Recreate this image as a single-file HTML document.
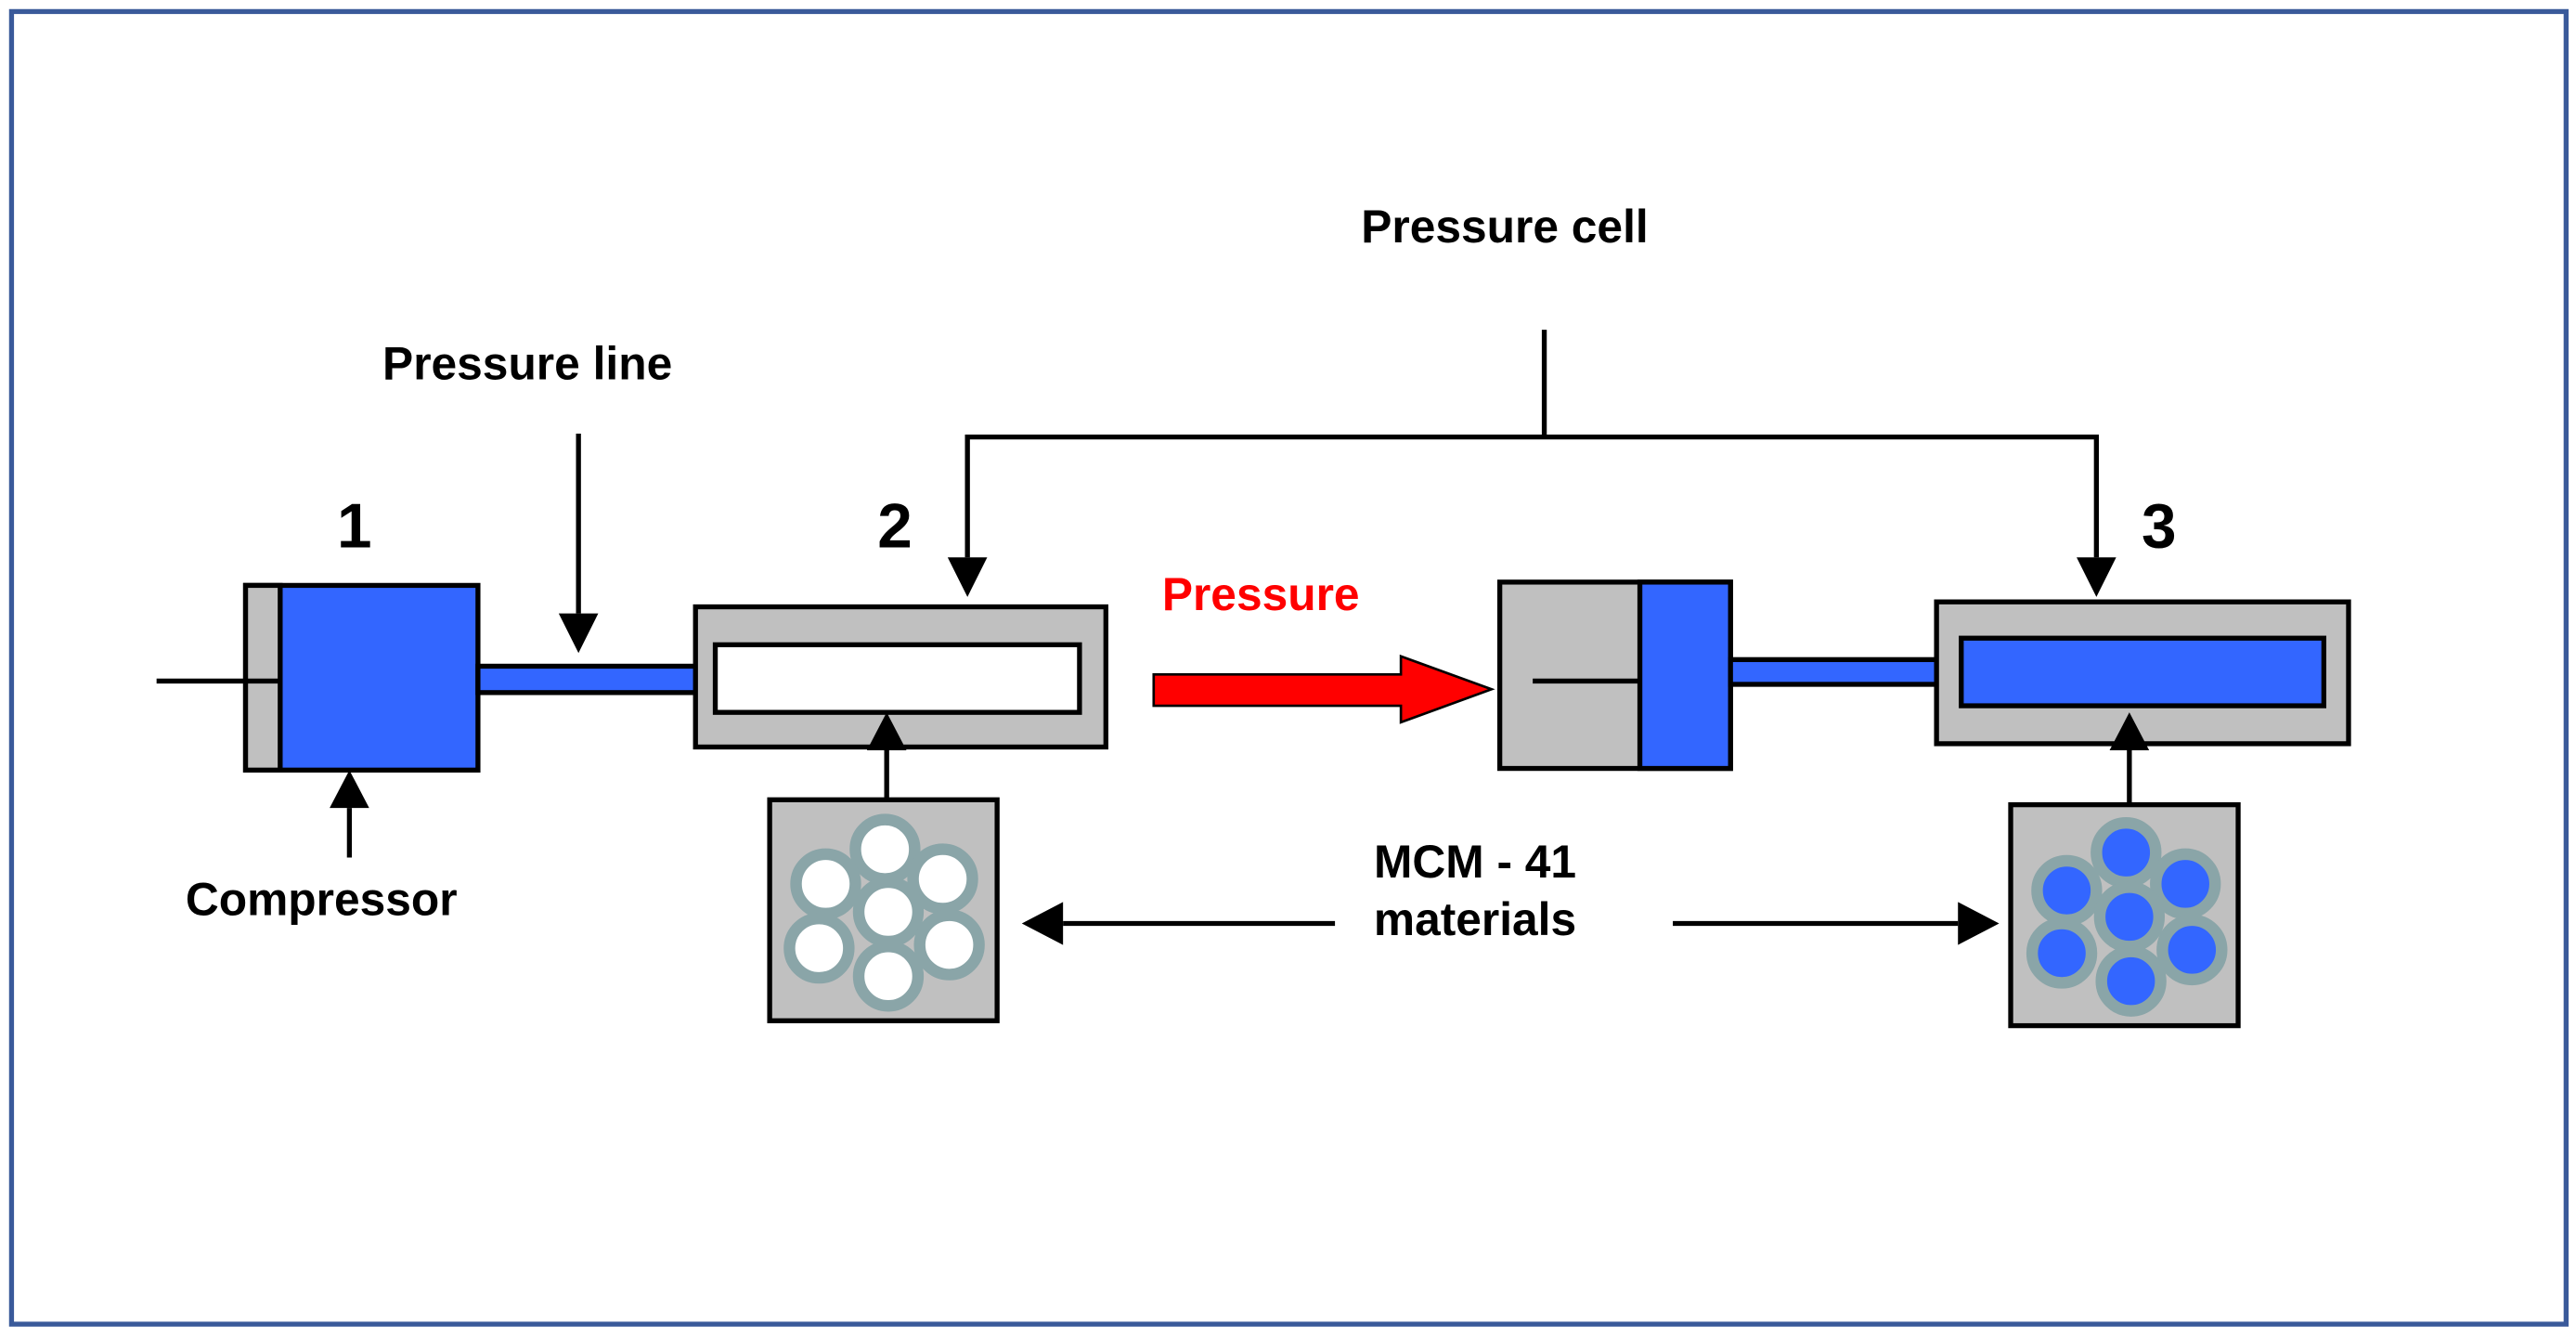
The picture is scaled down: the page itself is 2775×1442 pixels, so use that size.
<!DOCTYPE html>
<html><head><style>html,body{margin:0;padding:0;background:#fff}svg{display:block}</style></head>
<body>
<svg width="2775" height="1442" viewBox="0 0 1563 812" preserveAspectRatio="none" xmlns="http://www.w3.org/2000/svg" font-family="Liberation Sans, Arial, sans-serif" font-weight="bold">
<rect x="0" y="0" width="1563" height="812" fill="#fff"/>
<rect x="7" y="7" width="1550" height="796" fill="none" stroke="#3a5a9a" stroke-width="3"/>

<text x="913" y="147" font-size="28" text-anchor="middle">Pressure cell</text>
<text x="320" y="230" font-size="28" text-anchor="middle">Pressure line</text>
<text x="215" y="332" font-size="38" text-anchor="middle">1</text>
<text x="543" y="332" font-size="38" text-anchor="middle">2</text>
<text x="1310" y="332" font-size="38" text-anchor="middle">3</text>
<text x="765" y="370" font-size="28" text-anchor="middle" fill="#ff0000">Pressure</text>
<text x="195" y="555" font-size="28" text-anchor="middle">Compressor</text>
<text x="895" y="532" font-size="28" text-anchor="middle">MCM - 41</text>
<text x="895" y="567" font-size="28" text-anchor="middle">materials</text>

<!-- compressor 1 -->
<rect x="149" y="355" width="141" height="112" fill="#3366ff" stroke="#000" stroke-width="3"/>
<rect x="149" y="355" width="21" height="112" fill="#c0c0c0" stroke="#000" stroke-width="3"/>
<rect x="290" y="404" width="142" height="16" fill="#3366ff" stroke="#000" stroke-width="3"/>

<!-- cell 2 -->
<rect x="422" y="368" width="249" height="85" fill="#c0c0c0" stroke="#000" stroke-width="3"/>
<rect x="434" y="391" width="221" height="41" fill="#fff" stroke="#000" stroke-width="3"/>

<!-- red arrow -->
<polygon points="700,409 850,409 850,398 905,418 850,438 850,428 700,428" fill="#ff0000" stroke="#000" stroke-width="1.5"/>

<!-- piston -->
<rect x="910" y="353" width="140" height="113" fill="#c0c0c0" stroke="#000" stroke-width="3"/>
<rect x="995" y="353" width="55" height="113" fill="#3366ff" stroke="#000" stroke-width="3"/>
<line x1="930" y1="413" x2="995" y2="413" stroke="#000" stroke-width="3"/>
<rect x="1050" y="400" width="140" height="15" fill="#3366ff" stroke="#000" stroke-width="3"/>

<!-- cell 3 -->
<rect x="1175" y="365" width="250" height="86" fill="#c0c0c0" stroke="#000" stroke-width="3"/>
<rect x="1190" y="387" width="220" height="41" fill="#3366ff" stroke="#000" stroke-width="3"/>

<!-- MCM boxes -->
<rect x="467" y="485" width="138" height="134" fill="#c0c0c0" stroke="#000" stroke-width="3"/>
<rect x="1220" y="488" width="138" height="134" fill="#c0c0c0" stroke="#000" stroke-width="3"/>
<g stroke="#8aa5a8" stroke-width="7" fill="#fff">
<circle cx="537" cy="515" r="18"/><circle cx="572" cy="533" r="18"/><circle cx="501" cy="536" r="18"/>
<circle cx="539" cy="553" r="18"/><circle cx="497" cy="575" r="18"/><circle cx="576" cy="573" r="18"/><circle cx="539" cy="592" r="18"/>
</g>
<g stroke="#8aa5a8" stroke-width="7" fill="#3366ff">
<circle cx="1290" cy="517" r="18"/><circle cx="1326" cy="536" r="18"/><circle cx="1254" cy="540" r="18"/>
<circle cx="1292" cy="556" r="18"/><circle cx="1251" cy="578" r="18"/><circle cx="1330" cy="576" r="18"/><circle cx="1293" cy="595" r="18"/>
</g>

<g stroke="#000" stroke-width="3" fill="none">
<polyline points="937,200 937,265"/>
<polyline points="587,338 587,265 1272,265 1272,338"/>
<line x1="351" y1="263" x2="351" y2="372"/>
<line x1="212" y1="520" x2="212" y2="490"/>
<line x1="538" y1="485" x2="538" y2="455"/>
<line x1="1292" y1="488" x2="1292" y2="455"/>
<line x1="810" y1="560" x2="645" y2="560"/>
<line x1="1015" y1="560" x2="1188" y2="560"/>
<line x1="95" y1="413" x2="170" y2="413"/>
</g>
<g fill="#000">
<polygon points="575,338 599,338 587,362"/>
<polygon points="1260,338 1284,338 1272,362"/>
<polygon points="339,372 363,372 351,396"/>
<polygon points="200,490 224,490 212,467"/>
<polygon points="526,455 550,455 538,432"/>
<polygon points="1280,455 1304,455 1292,432"/>
<polygon points="645,547 645,573 620,560"/>
<polygon points="1188,547 1188,573 1213,560"/>
</g>
</svg>
</body></html>
